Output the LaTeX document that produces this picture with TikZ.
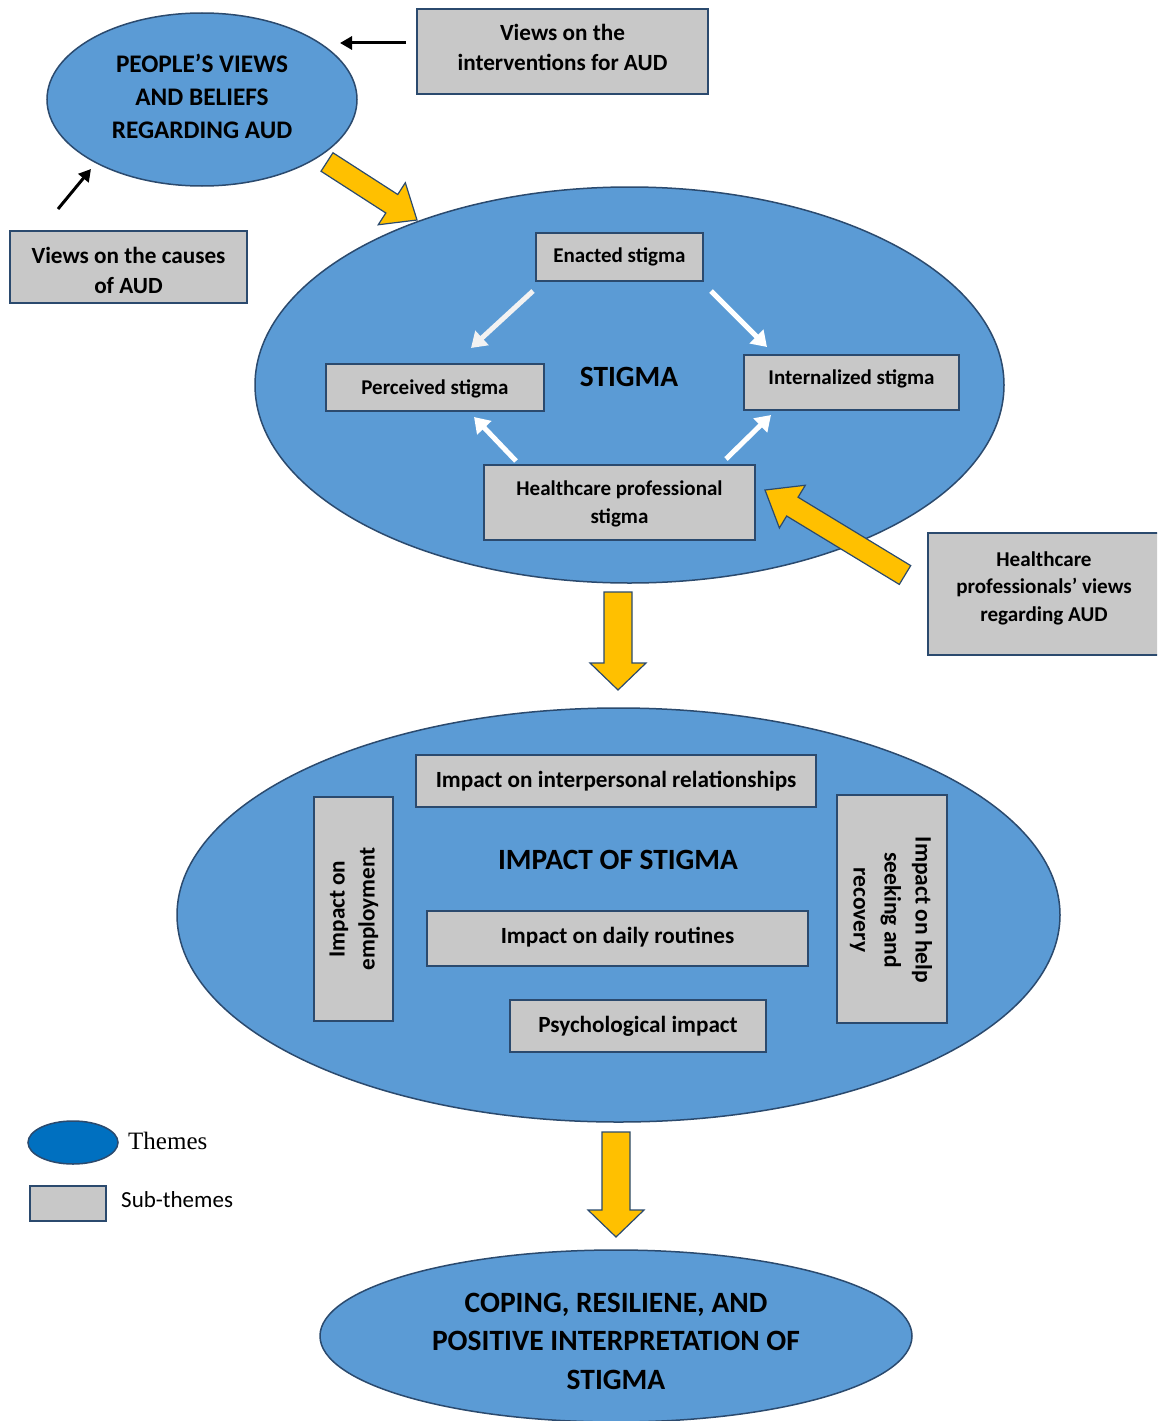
\documentclass[tikz,border=0pt]{standalone}
\usepackage{fontspec}
\setmainfont{Carlito}
\newfontfamily\serifface{Liberation Serif}
\usetikzlibrary{calc,arrows.meta,shapes.geometric}
\definecolor{themefill}{HTML}{5B9BD5}
\definecolor{themeedge}{HTML}{2B4A6E}
\definecolor{subfill}{HTML}{C8C8C8}
\definecolor{subedge}{HTML}{2B4A6E}
\definecolor{yel}{HTML}{FFC000}
\definecolor{legfill}{HTML}{0070C0}
\definecolor{offwhite}{HTML}{F2F2F2}
\newcommand\blockarr[5]{%
  \coordinate (ba-h) at ($(#2)!#5!(#1)$);
  \filldraw[fill=yel, draw=themeedge, line width=1.2pt, line join=miter]
    ($(#1)!#3!90:(#2)$) -- ($(ba-h)!#3!-90:(#1)$) -- ($(ba-h)!#4!-90:(#1)$) -- (#2)
    -- ($(ba-h)!#4!90:(#1)$) -- ($(ba-h)!#3!90:(#1)$) -- ($(#1)!#3!-90:(#2)$) -- cycle;
}
\begin{document}
\begin{tikzpicture}[x=1pt,y=-1pt,
  theme/.style={ellipse, draw=themeedge, line width=1.5pt, fill=themefill, inner sep=0pt, align=center, text=black},
  subbox/.style={rectangle, draw=subedge, line width=1.5pt, fill=subfill, inner sep=0pt, align=center, text=black},
  bigtxt/.style={font=\fontsize{25.3}{33}\selectfont\bfseries, align=center},
  outtxt/.style={font=\fontsize{23.2}{30}\selectfont\bfseries, align=center},
  intxt/.style={font=\fontsize{21}{28}\selectfont\bfseries, align=center},
  imptxt/.style={font=\fontsize{23.2}{30}\selectfont\bfseries, align=center},
  titletxt/.style={font=\fontsize{29.4}{36}\selectfont\bfseries, align=center},
  blackarr/.style={draw=black, line width=3pt, -{Triangle[length=12pt,width=13pt]}},
  whitearr/.style={draw=white, line width=5pt, -{Triangle[length=15pt,width=19pt]}},
]
\clip (0,0) rectangle (1157,1421);
\fill[white] (0,0) rectangle (1157,1421);

% themes
\node[theme, minimum width=310pt, minimum height=173pt] (people) at (202,99.5) {};
\node[bigtxt] (peopletxt) at (202,96) {PEOPLE’S VIEWS\\AND BELIEFS\\REGARDING AUD};
\node[theme, minimum width=749pt, minimum height=396pt] (stigma) at (629.5,385) {};
\node[titletxt] (stigmatxt) at (629,377) {STIGMA};
\node[theme, minimum width=883pt, minimum height=414pt] (impact) at (618.5,915) {};
\node[titletxt] (impacttxt) at (618,860) {IMPACT OF STIGMA};
\node[theme, minimum width=592pt, minimum height=172pt] (coping) at (616,1336) {};
\node[font=\fontsize{29.5}{38.5}\selectfont\bfseries, align=center] (copingtxt) at (616,1341)
  {COPING, RESILIENE, AND\\POSITIVE INTERPRETATION OF\\STIGMA};

% outer sub-themes
\node[subbox, minimum width=291pt, minimum height=85pt] (interv) at (562.5,51.5) {};
\node[outtxt] (intervtxt) at (562.5,47.5) {Views on the\\interventions for AUD};
\node[subbox, minimum width=237pt, minimum height=72pt] (causes) at (128.5,267) {};
\node[outtxt] (causestxt) at (128.5,270) {Views on the causes\\of AUD};
\node[subbox, minimum width=232pt, minimum height=122pt] (hcviews) at (1044,594) {};
\node[font=\fontsize{21.1}{27.5}\selectfont\bfseries, align=center] (hcviewstxt) at (1044,588)
  {Healthcare\\professionals’ views\\regarding AUD};

% stigma sub-themes
\node[subbox, minimum width=167pt, minimum height=48pt, intxt] (enacted) at (619.5,257) {Enacted stigma};
\node[subbox, minimum width=218pt, minimum height=47pt] (perceived) at (435,387.5) {};
\node[intxt] (perceivedtxt) at (435,388.5) {Perceived stigma};
\node[subbox, minimum width=215pt, minimum height=55pt] (internal) at (851.5,382.5) {};
\node[intxt] (internaltxt) at (851.5,379) {Internalized stigma};
\node[subbox, minimum width=271pt, minimum height=75pt] (hcps) at (619.5,502.5) {};
\node[intxt] (hcpstxt) at (619.5,503.5) {Healthcare professional\\stigma};

% impact sub-themes
\node[subbox, minimum width=400pt, minimum height=52pt, imptxt] (interp) at (616,781)
  {Impact on interpersonal relationships};
\node[subbox, minimum width=79pt, minimum height=224pt] (employ) at (353.5,909) {};
\node[imptxt, rotate=90] (employtxt) at (354,909) {Impact on\\employment};
\node[subbox, minimum width=381pt, minimum height=55pt] (daily) at (617.5,938.5) {};
\node[imptxt] (dailytxt) at (617.5,937) {Impact on daily routines};
\node[subbox, minimum width=256pt, minimum height=52pt] (psych) at (638,1026) {};
\node[imptxt] (psychtxt) at (638,1026) {Psychological impact};
\node[subbox, minimum width=110pt, minimum height=228pt] (help) at (892,909) {};
\node[rotate=-90, font=\fontsize{23.5}{31}\selectfont\bfseries, align=center] (helptxt) at (891,910) {Impact on help\\seeking and\\recovery};

% black arrows
\coordinate (ia) at (406,43); \coordinate (ib) at (340,43);
\draw[blackarr] (ia) -- (ib);
\coordinate (ca) at (58,209); \coordinate (cb) at (91,169);
\draw[blackarr] (ca) -- (cb);

% white arrows
\coordinate (e2pa) at (533,291); \coordinate (e2pb) at (471,348);
\coordinate (e2ia) at (711,291); \coordinate (e2ib) at (767,347);
\coordinate (h2pa) at (516,461); \coordinate (h2pb) at (474,417);
\coordinate (h2ia) at (726,459); \coordinate (h2ib) at (771,415);
\draw[whitearr, draw=offwhite] (e2pa) -- (e2pb);
\draw[whitearr] (e2ia) -- (e2ib);
\draw[whitearr] (h2pa) -- (h2pb);
\draw[whitearr] (h2ia) -- (h2ib);

% yellow block arrows
\coordinate (y1a) at (327,162); \coordinate (y1b) at (417,220);
\blockarr{y1a}{y1b}{11pt}{25pt}{30pt}
\coordinate (y2a) at (905,575); \coordinate (y2b) at (765,490);
\blockarr{y2a}{y2b}{11pt}{25pt}{32pt}
\coordinate (y3a) at (618,592); \coordinate (y3b) at (618,690);
\blockarr{y3a}{y3b}{14pt}{28pt}{27pt}
\coordinate (y4a) at (616,1132); \coordinate (y4b) at (616,1237);
\blockarr{y4a}{y4b}{14pt}{28pt}{27pt}

% legend
\node[ellipse, draw=themeedge, line width=1.5pt, fill=legfill, minimum width=90pt, minimum height=43pt, inner sep=0pt] (legtheme) at (73,1142.5) {};
\node[anchor=west, font=\serifface\fontsize{25}{28}\selectfont, inner sep=0pt] (legthemetxt) at (128,1141) {Themes};
\node[rectangle, draw=themeedge, line width=1.5pt, fill=subfill, minimum width=76pt, minimum height=35pt, inner sep=0pt] (legsub) at (68,1203.5) {};
\node[anchor=west, font=\fontsize{23}{26}\selectfont, inner sep=0pt] (legsubtxt) at (121,1200) {Sub-themes};
\end{tikzpicture}
\end{document}
